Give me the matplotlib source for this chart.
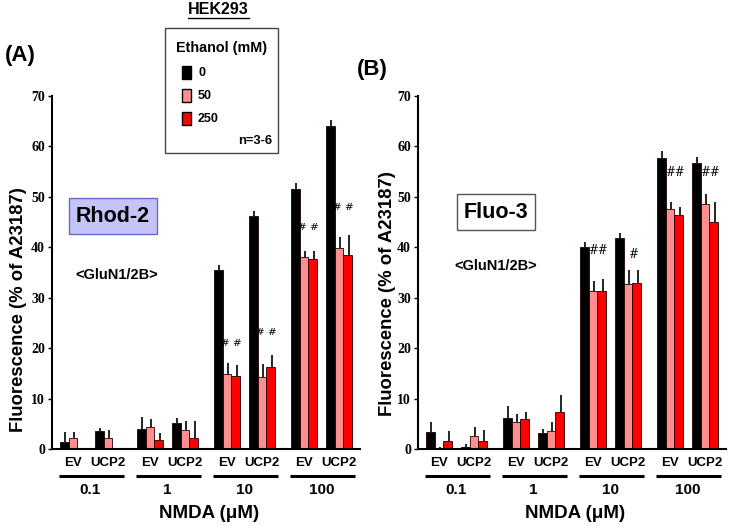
import numpy as np
import matplotlib.pyplot as plt

plt.rcParams['font.family'] = ['Liberation Sans', 'DejaVu Sans']

# Data (mean, upper error)
concentrations = ['0.1', '1', '10', '100']
constructs = ['EV', 'UCP2']
ethanol = ['0', '50', '250']

# order: 0.1 EV, 0.1 UCP2, 1 EV, 1 UCP2, 10 EV, 10 UCP2, 100 EV, 100 UCP2
rhod_0 = [1.3, 3.5, 4.0, 5.2, 35.5, 46.2, 51.5, 64.0]
rhod_50 = [2.1, 2.1, 4.3, 3.8, 14.8, 14.2, 38.0, 39.8]
rhod_250 = [0.1, 0.1, 1.8, 2.1, 14.5, 16.2, 37.7, 38.4]
rhod_0_err = [2.0, 0.6, 2.3, 0.9, 1.0, 1.0, 1.2, 1.2]
rhod_50_err = [1.2, 1.6, 1.6, 1.7, 2.2, 2.6, 1.3, 2.2]
rhod_250_err = [0.0, 0.0, 1.3, 3.5, 2.1, 2.5, 1.5, 4.1]

fluo_0 = [3.3, 0.3, 6.1, 3.1, 40.0, 41.9, 57.8, 56.7]
fluo_50 = [0.1, 2.6, 5.4, 3.6, 31.3, 32.8, 47.6, 48.5]
fluo_250 = [1.6, 1.5, 5.9, 7.4, 31.4, 33.0, 46.5, 45.0]
fluo_0_err = [2.0, 0.6, 2.5, 0.9, 1.0, 1.0, 1.2, 1.2]
fluo_50_err = [0.2, 1.7, 1.6, 1.8, 2.0, 2.6, 1.4, 2.1]
fluo_250_err = [1.9, 2.2, 1.5, 3.4, 2.3, 2.5, 1.5, 3.9]

# significance marks: (subgroup index, y value, text)
rhod_marks = [(4, 21.0, '# #'), (5, 23.2, '# #'), (6, 44.0, '# #'), (7, 47.8, '# #')]
fluo_marks = [(4, 39.3, '##'), (5, 38.6, '#'), (6, 54.8, '##'), (7, 54.8, '##')]

colors = ['#000000', '#ff8f8f', '#ff0000']
bar_w = 0.25
centers = np.array([g * 2.2 + s for g in range(4) for s in range(2)])

fig = plt.figure(figsize=(7.31, 5.26), dpi=100)


def draw_panel(left, vals, errs, marks, mark_size, ylab_x, ylab_y):
    ax = fig.add_axes([left, 1 - 449 / 526, 308 / 731, (449 - 96) / 526])
    for k in range(3):
        ax.bar(centers + (k - 1) * bar_w, vals[k], bar_w, color=colors[k],
               edgecolor='#200000', linewidth=0.6, zorder=2)
        ax.errorbar(centers + (k - 1) * bar_w + 0.03, vals[k],
                    yerr=[np.zeros(8), errs[k]], fmt='none', ecolor='black',
                    elinewidth=1.2, capsize=0, zorder=3)
    for idx, yv, txt in marks:
        ax.text(centers[idx] + 0.13, yv, txt, ha='center', va='center',
                fontsize=mark_size, family='DejaVu Serif')
    ax.set_xlim(-0.6, 8.2)
    ax.set_ylim(0, 70)
    ax.set_yticks(range(0, 71, 10))
    ax.tick_params(axis='y', labelsize=10, length=3, width=1, direction='out',
                   pad=2)
    for lab in ax.get_yticklabels():
        lab.set_family('Liberation Serif')
        lab.set_fontweight('bold')
    ax.set_xticks([])
    ax.spines['top'].set_visible(False)
    ax.spines['right'].set_visible(False)
    ax.spines['left'].set_linewidth(1.5)
    ax.spines['bottom'].set_linewidth(1.5)
    # construct labels, group lines, concentration labels
    for i, c in enumerate(centers):
        ax.text(c, -2.7, constructs[i % 2], ha='center', va='center',
                fontsize=9.5, fontweight='bold', clip_on=False)
    for g in range(4):
        x0 = centers[2 * g] - 0.4
        x1 = centers[2 * g + 1] + 0.45
        ax.plot([x0, x1], [-5.4, -5.4], color='black', lw=2.2,
                clip_on=False, solid_capstyle='butt')
        ax.text((centers[2 * g] + centers[2 * g + 1]) / 2, -8.1,
                concentrations[g], ha='center', va='center',
                fontsize=11, fontweight='bold', clip_on=False)
    ax.text((centers[0] + centers[-1]) / 2 + 0.1, -12.7, 'NMDA (\u03bcM)',
            ha='center', va='center', fontsize=13.5, fontweight='bold',
            clip_on=False)
    fig.text(ylab_x / 731, 1 - ylab_y / 526, 'Fluorescence (% of A23187)',
             rotation=90, ha='center', va='center', fontsize=13.3,
             fontweight='bold')
    return ax


axA = draw_panel(52 / 731, [rhod_0, rhod_50, rhod_250],
                 [rhod_0_err, rhod_50_err, rhod_250_err], rhod_marks, 7.5,
                 19, 310)
axB = draw_panel(418 / 731, [fluo_0, fluo_50, fluo_250],
                 [fluo_0_err, fluo_50_err, fluo_250_err], fluo_marks, 8.5,
                 387, 294)

# panel letters and title
fig.text(5 / 731, 1 - 55 / 526, '(A)', fontsize=16, fontweight='bold',
         va='center')
fig.text(357 / 731, 1 - 70 / 526, '(B)', fontsize=16, fontweight='bold',
         va='center')
fig.text(218 / 731, 1 - 10 / 526, 'HEK293', fontsize=11.5, fontweight='bold',
         ha='center', va='center')
fig.add_artist(plt.Line2D([188 / 731, 249 / 731], [1 - 18 / 526, 1 - 18 / 526],
                          color='black', lw=1.0))

# legend box
fig.add_artist(plt.Rectangle((165 / 731, 1 - 153 / 526), 113 / 731, 125 / 526,
                             facecolor='white', edgecolor='#444444', lw=1.0))
fig.text(222 / 731, 1 - 48 / 526, 'Ethanol (mM)', fontsize=10.4,
         fontweight='bold', ha='center', va='center')
for k, lab in enumerate(ethanol):
    yc = 73 + 23 * k
    fig.add_artist(plt.Rectangle((182 / 731, 1 - (yc + 6) / 526), 9 / 731,
                                 13 / 526, facecolor=colors[k],
                                 edgecolor='black', lw=1.0))
    fig.text(198 / 731, 1 - yc / 526, lab, fontsize=9, fontweight='bold',
             va='center')
fig.text(272 / 731, 1 - 141 / 526, 'n=3-6', fontsize=9.3, fontweight='bold',
         ha='right', va='center')

# dye labels
fig.text(113 / 731, 1 - 216 / 526, 'Rhod-2', fontsize=15.5, fontweight='bold',
         ha='center', va='center',
         bbox=dict(boxstyle='square,pad=0.33', facecolor='#c4c4f8',
                   edgecolor='#6a6ac8', lw=1.0))
fig.text(496 / 731, 1 - 212 / 526, 'Fluo-3', fontsize=15.5, fontweight='bold',
         ha='center', va='center',
         bbox=dict(boxstyle='square,pad=0.33', facecolor='white',
                   edgecolor='#555555', lw=1.0))
fig.text(117 / 731, 1 - 275 / 526, '<GluN1/2B>', fontsize=10.5,
         fontweight='bold', ha='center', va='center')
fig.text(496 / 731, 1 - 266 / 526, '<GluN1/2B>', fontsize=10.5,
         fontweight='bold', ha='center', va='center')

fig.savefig('out.png', dpi=100)
